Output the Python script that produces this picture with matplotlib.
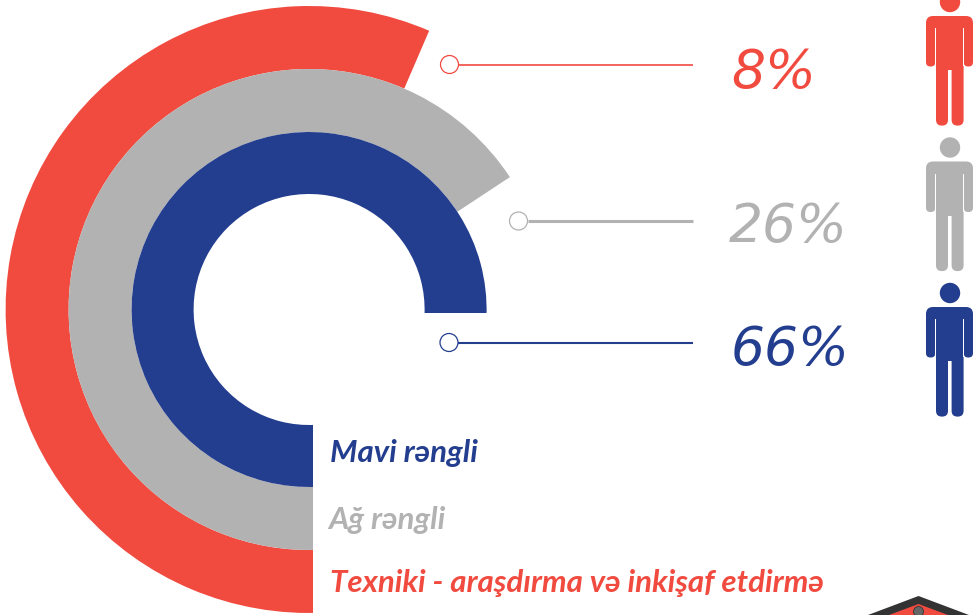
import matplotlib
matplotlib.use("Agg")
import matplotlib.pyplot as plt
from matplotlib.patches import Wedge, Circle, Rectangle, FancyBboxPatch, Polygon

# arcs, outermost first
arc_names = ["Texniki - araşdırma və inkişaf etdirmə", "Ağ rəngli", "Mavi rəngli"]
arc_sweep = [203.3, 236.6, 272]
arc_inner = [240.5, 177.5, 115.5]
arc_outer = [303.5, 240.5, 177.5]
arc_colors = ["#f14b40", "#b2b2b2", "#243e8f"]

pct_labels = ["8%", "26%", "66%"]
pct_colors = ["#f14b40", "#b2b2b2", "#243e8f"]

plt.rcParams['font.family'] = ['Lato', 'Noto Sans', 'DejaVu Sans']

fig = plt.figure(figsize=(9.76, 6.15), dpi=100)
ax = fig.add_axes([0, 0, 1, 1])
ax.set_xlim(0, 976)
ax.set_ylim(615, 0)
ax.axis("off")

cx, cy = 309.1, 309.5
for name, sweep, r0, r1, col in zip(arc_names, arc_sweep, arc_inner, arc_outer, arc_colors):
    ax.add_patch(Wedge((cx, cy), r1, 87, 90 + sweep, width=r1 - r0, color=col, lw=0, zorder=1))
# the arcs are cut square at x=313 / y=313
ax.add_patch(Rectangle((313, 313), 663, 302, color="white", lw=0, zorder=2))

# leader lines
lead_x = [449.5, 518.5, 449]
lead_y = [64.5, 221, 342.5]
lead_w = [1.2, 2.2, 1.5]
for x, y, w, col in zip(lead_x, lead_y, lead_w, arc_colors):
    ax.plot([x + 9, 693], [y, y], color=col, lw=w, zorder=3, solid_capstyle="butt")
    ax.add_patch(Circle((x, y), 9, fc="white", ec=col, lw=0.9, zorder=4))

# percent numbers
pct_x = [731, 729, 731]
pct_y = [88, 242, 365]
for s, x, y, col in zip(pct_labels, pct_x, pct_y, pct_colors):
    ax.text(x, y, s, color=col, fontsize=38.5, fontstyle="italic",
            family=["DejaVu Sans"], ha="left", va="baseline", zorder=5)


def person(dy, col):
    def box(x, y, w, h, r):
        ax.add_patch(FancyBboxPatch((x + r, y + dy + r), w - 2 * r, h - 2 * r,
                                    boxstyle="round,pad=%f,rounding_size=%f" % (r, r),
                                    fc=col, ec="none", lw=0, zorder=5))
    ax.add_patch(Circle((950, 2 + dy), 10.2, fc=col, ec="none", zorder=5))
    box(926, 16, 47, 30, 7)
    box(926, 30, 9.3, 36.5, 4.4)
    box(963.7, 30, 9.3, 36.5, 4.4)
    ax.add_patch(Rectangle((936, 24 + dy), 27.4, 46, fc=col, ec="none", zorder=5))
    ax.add_patch(Rectangle((935.3, 28 + dy), 0.8, 38, fc="white", ec="none", zorder=6))
    ax.add_patch(Rectangle((963.2, 28 + dy), 0.8, 38, fc="white", ec="none", zorder=6))
    box(936, 60, 12, 65.6, 5.8)
    box(951.6, 60, 12, 65.6, 5.8)


person_dy = [0, 145.5, 291]
for d, col in zip(person_dy, arc_colors):
    person(d, col)

# labels under the centre
name_x = [330, 328, 330]
name_y = [592, 529, 462]
for s, x, y, col in zip(arc_names, name_x, name_y, arc_colors):
    ax.text(x, y, s, color=col, fontsize=22.5, fontstyle="italic", fontweight="bold",
            ha="left", va="baseline", zorder=5)

# roof of the icon cut off by the bottom edge
ax.add_patch(Polygon([[868, 615], [918.5, 596], [969, 615]], fc="#333333", ec="none", zorder=5))
ax.add_patch(Polygon([[889, 615], [918.5, 604], [948, 615]], fc="#f14b40", ec="none", zorder=6))
ax.add_patch(Circle((918.5, 611.5), 5, fc="#666666", ec="#333333", lw=0.6, zorder=7))

fig.savefig("out.png", dpi=100)
